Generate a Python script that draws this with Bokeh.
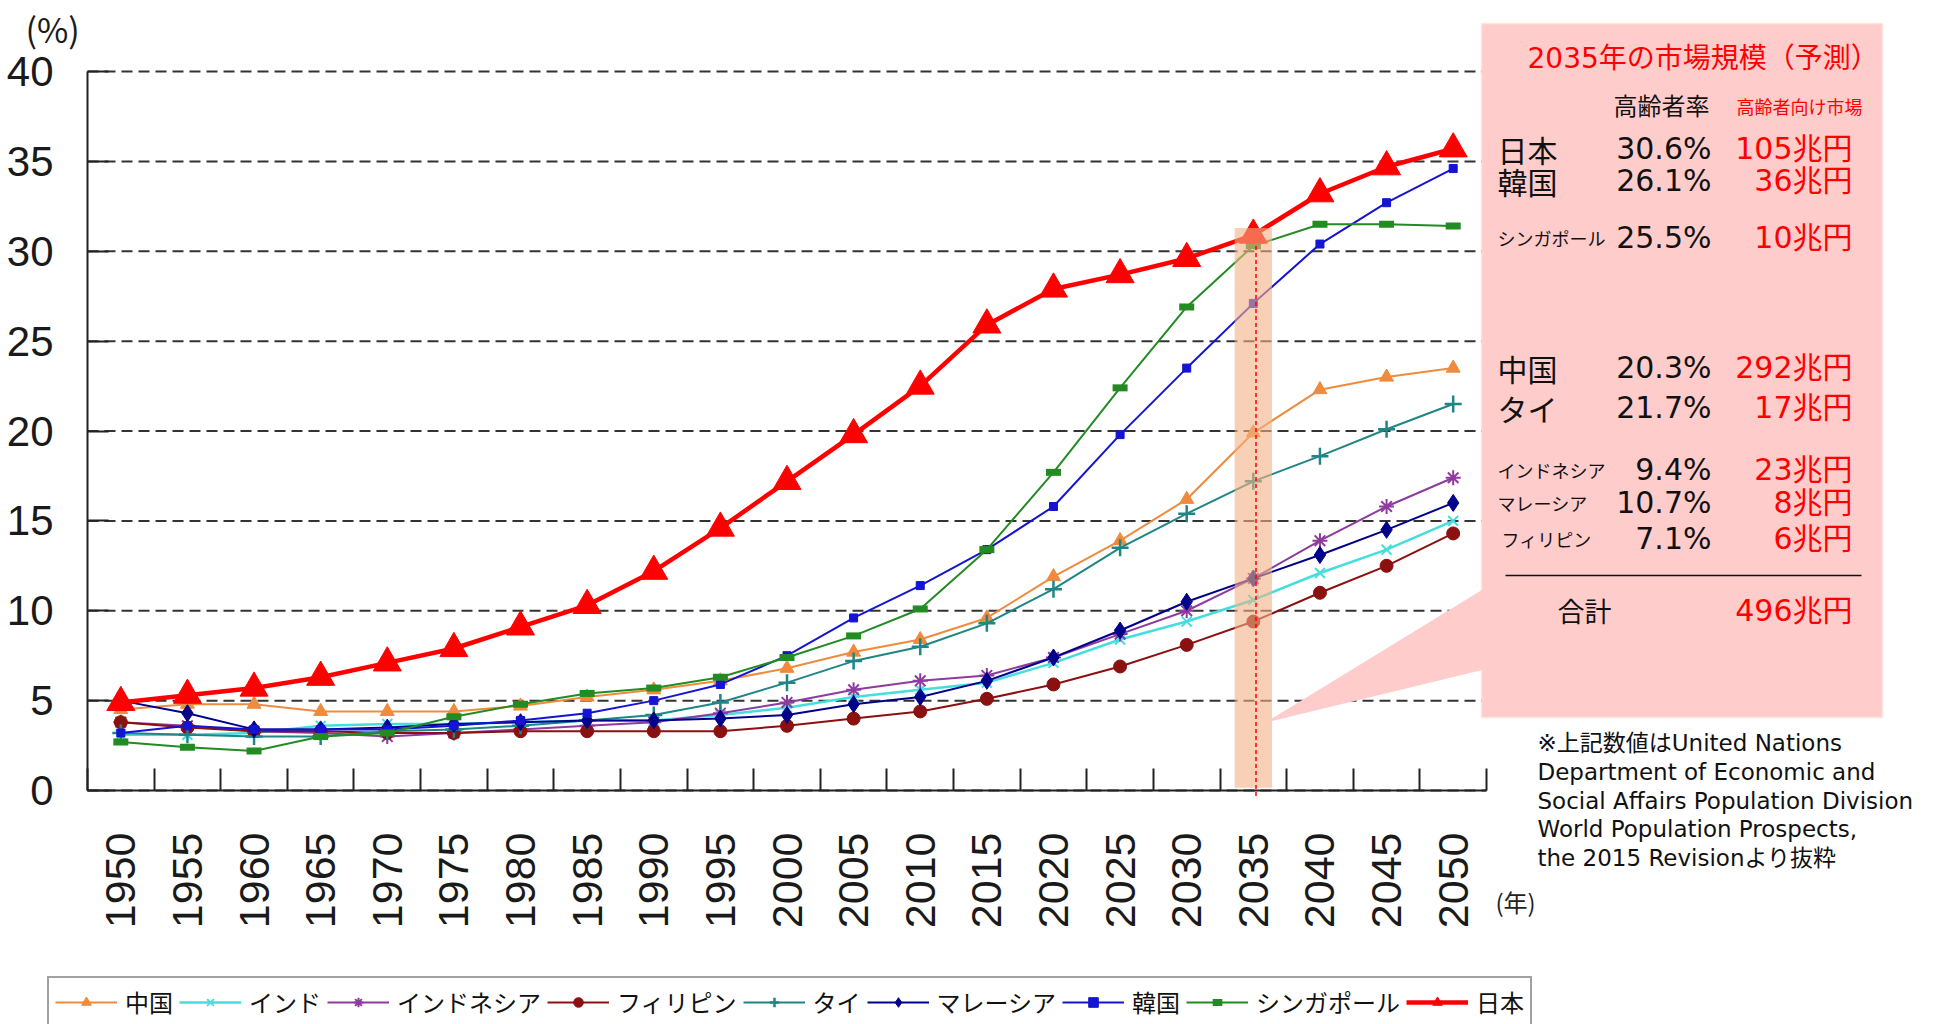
import numpy as np
from bokeh.plotting import figure
from bokeh.models import (FixedTicker, Legend, LegendItem, Label, BoxAnnotation,
                          PolyAnnotation, PrintfTickFormatter)
from bokeh.embed import file_html
from bokeh.resources import INLINE

# ---------------- data ----------------
years = [1950, 1955, 1960, 1965, 1970, 1975, 1980, 1985, 1990, 1995, 2000,
         2005, 2010, 2015, 2020, 2025, 2030, 2035, 2040, 2045, 2050]
china = [4.5, 4.8, 4.8, 4.4, 4.4, 4.4, 4.7, 5.2, 5.6, 6.1, 6.8, 7.7, 8.4, 9.6, 11.9, 13.9, 16.2, 19.9, 22.3, 23.0, 23.5]
india = [3.1, 3.1, 3.2, 3.6, 3.7, 3.7, 3.8, 3.9, 3.9, 4.2, 4.6, 5.2, 5.6, 6.0, 7.1, 8.4, 9.4, 10.6, 12.1, 13.4, 15.0]
indonesia = [3.8, 3.6, 3.3, 3.2, 3.0, 3.2, 3.4, 3.6, 3.8, 4.3, 4.9, 5.6, 6.1, 6.4, 7.4, 8.7, 10.0, 11.8, 13.9, 15.8, 17.4]
philippines = [3.8, 3.5, 3.3, 3.3, 3.2, 3.2, 3.3, 3.3, 3.3, 3.3, 3.6, 4.0, 4.4, 5.1, 5.9, 6.9, 8.1, 9.4, 11.0, 12.5, 14.3]
thailand = [3.2, 3.1, 3.0, 3.0, 3.3, 3.4, 3.6, 3.9, 4.2, 4.9, 6.0, 7.2, 8.0, 9.3, 11.2, 13.5, 15.4, 17.2, 18.6, 20.1, 21.5]
malaysia = [5.0, 4.3, 3.4, 3.4, 3.5, 3.7, 3.8, 3.9, 3.9, 4.0, 4.2, 4.8, 5.2, 6.1, 7.4, 8.9, 10.5, 11.8, 13.1, 14.5, 16.0]
korea = [3.2, 3.6, 3.4, 3.4, 3.4, 3.6, 3.9, 4.3, 5.0, 5.9, 7.5, 9.6, 11.4, 13.4, 15.8, 19.8, 23.5, 27.1, 30.4, 32.7, 34.6]
singapore = [2.7, 2.4, 2.2, 3.0, 3.2, 4.1, 4.8, 5.4, 5.7, 6.3, 7.4, 8.6, 10.1, 13.4, 17.7, 22.4, 26.9, 30.3, 31.5, 31.5, 31.4]
japan = [4.9, 5.3, 5.7, 6.3, 7.1, 7.9, 9.1, 10.3, 12.2, 14.6, 17.2, 19.8, 22.5, 25.9, 27.9, 28.7, 29.6, 30.9, 33.2, 34.7, 35.7]

series_names = ["中国", "インド", "インドネシア", "フィリピン", "タイ", "マレーシア", "韓国", "シンガポール", "日本"]
y_ticks = [0, 5, 10, 15, 20, 25, 30, 35, 40]
highlight_year = 2035

box_title = "2035年の市場規模（予測）"
box_header_rate = "高齢者率"
box_header_market = "高齢者向け市場"
box_names = ["日本", "韓国", "シンガポール", "中国", "タイ", "インドネシア", "マレーシア", "フィリピン"]
box_rates = ["30.6%", "26.1%", "25.5%", "20.3%", "21.7%", "9.4%", "10.7%", "7.1%"]
box_market = ["105兆円", "36兆円", "10兆円", "292兆円", "17兆円", "23兆円", "8兆円", "6兆円"]
total_label = "合計"
total_market = "496兆円"
footnote = ["※上記数値はUnited Nations",
            "Department of Economic and",
            "Social Affairs Population Division",
            "World Population Prospects,",
            "the 2015 Revisionより抜粋"]

# ---------------- layout ----------------
W, H = 1936, 1024
FL, FR, FT, FB = 87, 1486, 71, 790           # plot area edges in page pixels
X0, X1 = years[0] - 2.5, years[-1] + 2.5
Y0, Y1 = y_ticks[0], y_ticks[-1]

def dx(px):
    return X0 + (px - FL) * (X1 - X0) / (FR - FL)

def dy(py):
    return Y0 + (FB - py) * (Y1 - Y0) / (FB - FT)

p = figure(width=W, height=H, output_backend="svg", toolbar_location=None,
           x_range=(dx(0), dx(W)), y_range=(dy(H), dy(0)),
           min_border_left=0, min_border_right=0, min_border_top=0, min_border_bottom=0)
p.outline_line_color = None
p.background_fill_color = "white"
p.border_fill_color = "white"
p.xgrid.visible = False
p.ygrid.visible = False

# axes (drawn at fixed data positions inside the frame)
boundaries = [y - 2.5 for y in years] + [years[-1] + 2.5]
xa = p.xaxis[0]
xa.fixed_location = Y0
xa.bounds = (X0, X1)
xa.ticker = FixedTicker(ticks=years, minor_ticks=boundaries)
xa.formatter = PrintfTickFormatter(format="%d")
xa.major_label_orientation = np.pi / 2
xa.major_tick_in = 0
xa.major_tick_out = 0
xa.minor_tick_in = 22
xa.minor_tick_out = 0
xa.minor_tick_line_color = "#222222"
xa.minor_tick_line_width = 2
xa.axis_line_width = 2
xa.axis_line_color = "#222222"
xa.major_label_standoff = 42
xa.major_label_text_font = "Liberation Sans"
xa.major_label_text_font_size = "43px"
xa.major_label_text_color = "#1a1a1a"

ya = p.yaxis[0]
ya.fixed_location = X0
ya.bounds = (Y0, Y1)
ya.ticker = FixedTicker(ticks=y_ticks)
ya.major_tick_in = 21
ya.major_tick_out = 0
ya.minor_tick_line_color = None
ya.major_tick_line_width = 2
ya.major_tick_line_color = "#222222"
ya.axis_line_width = 2
ya.axis_line_color = "#222222"
ya.major_label_standoff = 34
ya.major_label_text_font = "Liberation Sans Narrow, Liberation Sans"
ya.major_label_text_font_size = "42px"
ya.major_label_text_color = "#1a1a1a"

# dashed horizontal grid lines across the plot area only
p.segment(x0=[X0] * len(y_ticks), x1=[X1] * len(y_ticks), y0=y_ticks, y1=y_ticks,
          line_color="#333333", line_width=2, line_dash="11 6", level="underlay")

# ---------------- series ----------------
styles = [
    (china, "#F08A3C", "triangle", 14, 2, 1),
    (india, "#45DEDE", "x", 14, 2.5, 2),
    (indonesia, "#8E3A9E", "asterisk", 15, 2, 2),
    (philippines, "#8B1010", "circle", 13, 2, 1),
    (thailand, "#1F8585", "cross", 17, 2, 2.5),
    (malaysia, "#00008B", "diamond", 17, 2, 1),
    (korea, "#1414D2", "square", 8, 2, 1),
    (singapore, "#228B22", "dash", 15, 2, 7),
    (japan, "#FF0000", "triangle", 28, 4.5, 1),
]

items = []
for name, (vals, color, marker, size, lw, mlw) in zip(series_names, styles):
    r1 = p.line(years, vals, line_color=color, line_width=lw)
    r2 = p.scatter(years, vals, marker=marker, size=size, fill_color=color,
                   line_color=color, line_width=mlw)
    items.append(LegendItem(label=name, renderers=[r1, r2]))

# ---------------- highlight at 2035 ----------------
hi = years.index(highlight_year)
band = BoxAnnotation(left=highlight_year - 1.4, right=highlight_year + 1.4,
                     bottom=0.15, top=japan[hi] + 0.4,
                     fill_color="#F4B183", fill_alpha=0.6, line_alpha=0)
p.add_layout(band)
p.segment(x0=[highlight_year + 0.2], y0=[-0.3], x1=[highlight_year + 0.2], y1=[japan[hi] - 0.5],
          line_color="#FF0000", line_width=1.5, line_dash="4 3", level="overlay")

# ---------------- callout box ----------------
PINK = "#FFCCCC"
box = BoxAnnotation(left=dx(1481), right=dx(1882), top=dy(23), bottom=dy(717),
                    fill_color=PINK, fill_alpha=1, line_color="#FBE3D4", line_width=3,
                    level="overlay")
p.add_layout(box)
pointer = PolyAnnotation(xs=[dx(1265), dx(1492), dx(1492)], ys=[dy(722), dy(583), dy(667)],
                         fill_color=PINK, fill_alpha=1, line_alpha=0, level="overlay")
p.add_layout(pointer)
sep = BoxAnnotation(left=dx(1505), right=dx(1861), top=dy(574.3), bottom=dy(575.7),
                    fill_color="#111111", fill_alpha=1, line_alpha=0, level="overlay")
p.add_layout(sep)

NUMF = "DejaVu Sans, Noto Sans CJK JP"
CJKF = "Noto Sans CJK JP"

def lab(text, px, py, size, color="#111111", align="left", font=NUMF):
    p.add_layout(Label(x=dx(px), y=dy(py), text=text, text_font=font,
                       text_font_size=f"{size}px", text_color=color,
                       text_align=align, text_baseline="middle", level="overlay"))

lab(box_title, 1527, 58, 28, "#FF0000")
lab(box_header_rate, 1613, 104, 24, "#111111", font=CJKF)
lab(box_header_market, 1736, 105, 18, "#FF0000", font=CJKF)

row_y = [148, 180, 237, 367, 407, 469, 502, 538]
for name, rate, mk, yy in zip(box_names, box_rates, box_market, row_y):
    small = len(name) > 2
    lab(name, 1497 if name != "フィリピン" else 1501, yy, 18 if small else 30, font=CJKF)
    lab(rate, 1711, yy, 30, align="right")
    lab(mk, 1852, yy, 30, "#FF0000", align="right")
lab(total_label, 1557, 610, 27, font=CJKF)
lab(total_market, 1852, 610, 30, "#FF0000", align="right")

foot_y = [742, 771.5, 800, 828.5, 857]
for line, yy in zip(footnote, foot_y):
    lab(line, 1537, yy, 23)

# axis unit labels
lab("(%)", 25, 28, 34, "#1a1a1a", font=CJKF)
lab("(年)", 1495, 901, 24, "#222222", font=CJKF)

# ---------------- legend ----------------
legend = Legend(items=items, orientation="horizontal",
                location=(47, -3),
                label_text_font=CJKF, label_text_font_size="24px",
                label_text_color="#111111", glyph_width=62, glyph_height=24,
                label_standoff=8, spacing=6, padding=6, margin=0,
                border_line_color="#444444", border_line_width=2,
                background_fill_color="white", background_fill_alpha=1)
p.add_layout(legend)

open("out.html", "w").write(file_html(p, INLINE))
